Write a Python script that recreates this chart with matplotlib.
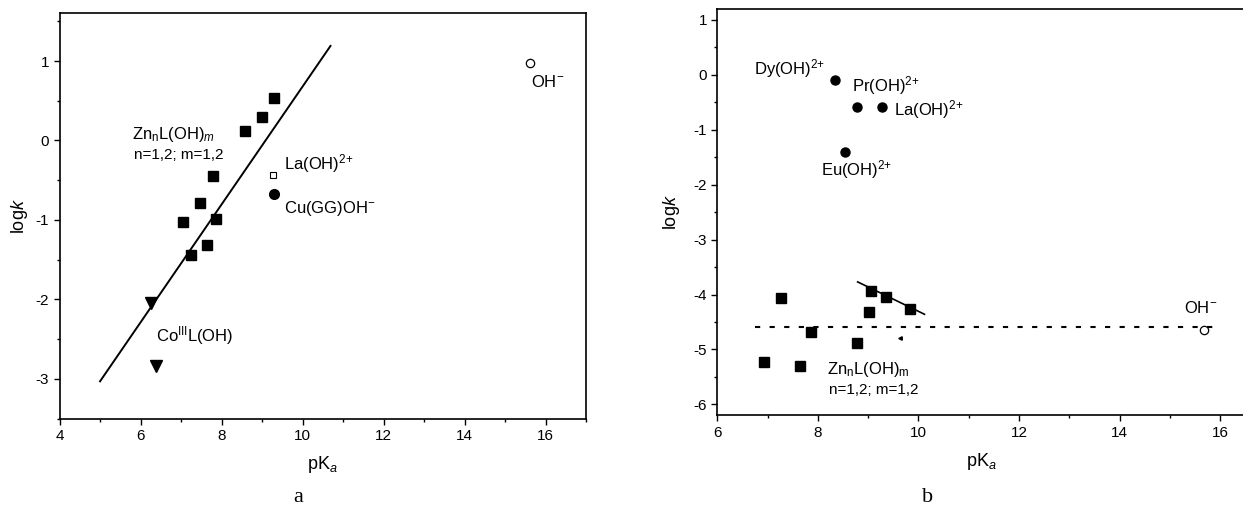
import matplotlib
matplotlib.use("Agg")
import matplotlib.pyplot as plt
from matplotlib.ticker import MultipleLocator

plt.rcParams['font.family'] = ['Liberation Sans', 'DejaVu Sans']
plt.rcParams['mathtext.fontset'] = 'custom'
plt.rcParams['mathtext.rm'] = 'Liberation Sans'
plt.rcParams['mathtext.it'] = 'Liberation Sans:italic'
plt.rcParams['axes.unicode_minus'] = False

# ---- panel a data ----
a_zn_pka = [9.29, 8.99, 8.58, 7.79, 7.46, 7.04, 7.86, 7.63, 7.25]
a_zn_logk = [0.54, 0.30, 0.12, -0.45, -0.79, -1.02, -0.99, -1.32, -1.44]
a_co_pka = [6.26, 6.37]
a_co_logk = [-2.04, -2.84]
a_la = (9.26, -0.43)
a_cu = (9.29, -0.67)
a_oh = (15.62, 0.97)
a_fit_x = [5.0, 10.69]
a_fit_y = [-3.03, 1.19]

# ---- panel b data ----
b_ln_pka = [8.33, 8.78, 9.28, 8.54]
b_ln_logk = [-0.09, -0.58, -0.58, -1.41]
b_zn_pka = [7.27, 9.05, 9.35, 9.84, 9.02, 7.87, 8.77, 6.93, 7.65]
b_zn_logk = [-4.07, -3.93, -4.04, -4.26, -4.31, -4.68, -4.89, -5.23, -5.30]
b_oh = (15.67, -4.64)
b_dash_x = [6.74, 15.88]
b_dash_y = [-4.60, -4.60]
b_fit_x = [8.79, 10.12]
b_fit_y = [-3.77, -4.36]
b_speck = (9.63, -4.80)

fig = plt.figure(figsize=(12.43, 5.16), dpi=100)
axa = fig.add_axes([0.0479, 0.1886, 0.4236, 0.7856])
axb = fig.add_axes([0.5771, 0.1951, 0.4248, 0.7875])

def style(ax, ypad):
    ax.tick_params(which='both', direction='out', top=False, right=False,
                   labelsize=11, width=1.0, pad=3)
    ax.tick_params(which='major', length=4.5)
    ax.tick_params(which='minor', length=2.5)
    ax.xaxis.set_major_locator(MultipleLocator(2))
    ax.xaxis.set_minor_locator(MultipleLocator(1))
    ax.yaxis.set_major_locator(MultipleLocator(1))
    ax.yaxis.set_minor_locator(MultipleLocator(0.5))
    for s in ax.spines.values():
        s.set_linewidth(1.2)
    ax.set_xlabel(r'pK$_a$', fontsize=13, labelpad=8)
    ax.set_ylabel(r'log$k$', fontsize=13, labelpad=ypad)

# panel a
axa.plot(a_fit_x, a_fit_y, color='black', lw=1.4)
axa.plot(a_zn_pka, a_zn_logk, 's', color='black', ms=7)
axa.plot(a_co_pka, a_co_logk, 'v', color='black', ms=8)
axa.plot(*a_la, 's', mfc='white', mec='black', ms=5, mew=0.8)
axa.plot(*a_cu, 'o', color='black', ms=7)
axa.plot(*a_oh, 'o', mfc='white', mec='black', ms=6, mew=0.9)
axa.set_xlim(4, 17)
axa.set_ylim(-3.5, 1.6)
style(axa, 4)
fs = 12
axa.text(5.78, 0.08, r'Zn$_\mathrm{n}$L(OH)$_m$', fontsize=fs, va='center')
axa.text(5.84, -0.18, 'n=1,2; m=1,2', fontsize=11, va='center')
axa.text(9.55, -0.29, r'La(OH)$^{2{+}}$', fontsize=fs, va='center')
axa.text(9.55, -0.86, r'Cu(GG)OH$^{-}$', fontsize=fs, va='center')
axa.text(6.37, -2.45, r'Co$^{\mathrm{III}}$L(OH)', fontsize=fs, va='center')
axa.text(15.64, 0.73, r'OH$^{-}$', fontsize=fs, va='center')

# panel b
axb.plot(b_dash_x, b_dash_y, color='black', lw=1.5, dashes=(2.5, 4.5))
axb.plot(b_fit_x, b_fit_y, color='black', lw=1.2)
axb.plot(b_ln_pka, b_ln_logk, 'o', color='black', ms=6.5)
axb.plot(b_zn_pka, b_zn_logk, 's', color='black', ms=6.5)
axb.plot(*b_oh, 'o', mfc='white', mec='black', ms=6, mew=0.9)
axb.plot(*b_speck, '<', color='black', ms=2.5)
axb.set_xlim(6, 16.5)
axb.set_ylim(-6.2, 1.2)
style(axb, 8)
axb.spines['right'].set_visible(False)
axb.text(6.72, 0.12, r'Dy(OH)$^{2{+}}$', fontsize=fs, va='center')
axb.text(8.67, -0.20, r'Pr(OH)$^{2{+}}$', fontsize=fs, va='center')
axb.text(9.51, -0.63, r'La(OH)$^{2{+}}$', fontsize=fs, va='center')
axb.text(8.06, -1.73, r'Eu(OH)$^{2{+}}$', fontsize=fs, va='center')
axb.text(15.28, -4.25, r'OH$^{-}$', fontsize=fs, va='center')
axb.text(8.19, -5.37, r'Zn$_\mathrm{n}$L(OH)$_\mathrm{m}$', fontsize=fs, va='center')
axb.text(8.23, -5.73, 'n=1,2; m=1,2', fontsize=11, va='center')

fig.text(298 / 1243, 1 - 497 / 516, 'a', fontsize=16, family='Liberation Serif',
         ha='center', va='center')
fig.text(928 / 1243, 1 - 497 / 516, 'b', fontsize=16, family='Liberation Serif',
         ha='center', va='center')

fig.savefig('out.png', dpi=100)
